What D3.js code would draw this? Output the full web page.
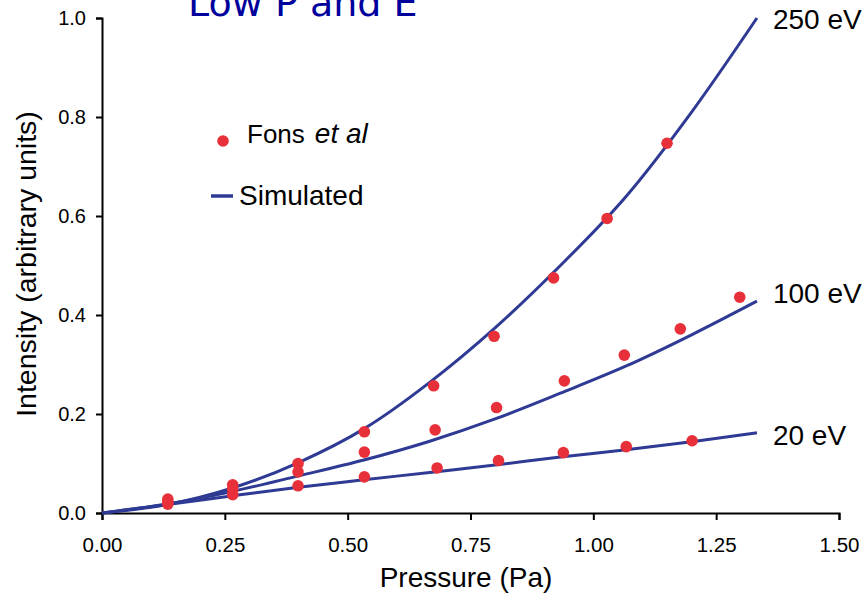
<!DOCTYPE html>
<html lang="en">
<head>
  <meta charset="UTF-8" />
  <title>Low P and E</title>
  <script src="https://d3js.org/d3.v7.min.js"></script>
  <style>
    body { margin: 0; background: #fff; }
    svg { display: block; }
  </style>
</head>
<body>
<script type="text/javascript">

const WIDTH = 864;
const HEIGHT = 593;
const BLUE = "#2E3A94";
const RED = "#E8303A";
const FONT = "'Liberation Sans', Arial, Helvetica, sans-serif";

// simulated curves: [pressure Pa, intensity]
const sim250 = [[0,0],[0.133,0.017],[0.267,0.051],[0.4,0.102],[0.533,0.170],[0.667,0.264],
                [0.8,0.374],[0.933,0.500],[1.067,0.640],[1.2,0.810],[1.333,1.0]];
const sim100 = [[0,0],[0.133,0.018],[0.267,0.044],[0.4,0.075],[0.533,0.107],[0.667,0.145],
                [0.8,0.190],[0.933,0.242],[1.067,0.297],[1.2,0.360],[1.333,0.428]];
const sim20  = [[0,0],[0.133,0.017],[0.267,0.035],[0.4,0.052],[0.533,0.067],[0.667,0.082],
                [0.8,0.097],[0.933,0.113],[1.067,0.128],[1.2,0.144],[1.333,0.162]];

// Fons et al measurements
const fons250 = [[0.134,0.028],[0.266,0.057],[0.399,0.100],[0.534,0.164],[0.675,0.257],
                 [0.798,0.357],[0.919,0.475],[1.028,0.595],[1.150,0.747]];
const fons100 = [[0.134,0.022],[0.266,0.048],[0.399,0.083],[0.534,0.123],[0.678,0.168],
                 [0.803,0.213],[0.941,0.267],[1.063,0.319],[1.177,0.372],[1.298,0.436]];
const fons20  = [[0.134,0.018],[0.266,0.037],[0.399,0.055],[0.534,0.073],[0.682,0.091],
                 [0.807,0.106],[0.939,0.122],[1.067,0.134],[1.201,0.146]];

const curveLabels = ["250 eV", "100 eV", "20 eV"];
const xTicks = [0, 0.25, 0.5, 0.75, 1.0, 1.25, 1.5];
const yTicks = [0, 0.2, 0.4, 0.6, 0.8, 1.0];

var svg = d3.select("body")
    .append("svg")
        .attr("width", WIDTH)
        .attr("height", HEIGHT);

const xScale = d3.scaleLinear().domain([0, 1.5]).range([102, 839]);
const yScale = d3.scaleLinear().domain([0, 1]).range([513, 18]);

// title, cut off at the top like the original
svg.append("text")
    .attr("x", 188)
    .attr("y", 16)
    .attr("font-family", "'DejaVu Sans', Verdana, sans-serif")
    .attr("font-size", 38)
    .attr("fill", "#00009C")
    .text("Low P and E");

// x axis
svg.append("g")
    .attr("transform", `translate(0,${yScale(0)})`)
    .call(d3.axisBottom(xScale)
        .tickValues(xTicks)
        .tickFormat(d3.format(".2f"))
        .tickSize(7)
        .tickPadding(17))
    .call(g => g.select(".domain").attr("stroke-width", 2))
    .call(g => g.selectAll(".tick line").attr("stroke-width", 2))
    .call(g => g.selectAll("text")
        .attr("font-family", FONT)
        .attr("font-size", 20.5)
        .attr("fill", "#000"));

// y axis
svg.append("g")
    .attr("transform", `translate(${xScale(0)},0)`)
    .call(d3.axisLeft(yScale)
        .tickValues(yTicks)
        .tickFormat(d3.format(".1f"))
        .tickSize(6)
        .tickPadding(10))
    .call(g => g.select(".domain").attr("stroke-width", 2))
    .call(g => g.selectAll(".tick line").attr("stroke-width", 2))
    .call(g => g.selectAll("text")
        .attr("font-family", FONT)
        .attr("font-size", 20)
        .attr("fill", "#000"));

// axis titles
svg.append("text")
    .attr("x", 466)
    .attr("y", 587)
    .attr("text-anchor", "middle")
    .attr("font-family", FONT)
    .attr("font-size", 28)
    .text("Pressure (Pa)");
svg.append("text")
    .attr("transform", "translate(36,264) rotate(-90)")
    .attr("text-anchor", "middle")
    .attr("font-family", FONT)
    .attr("font-size", 28.5)
    .text("Intensity (arbitrary units)");

// simulated lines
const line = d3.line()
    .x(d => xScale(d[0]))
    .y(d => yScale(d[1]))
    .curve(d3.curveMonotoneX);

const sims = [sim250, sim100, sim20];
svg.append("g")
    .selectAll("path")
    .data(sims)
    .join("path")
        .attr("d", line)
        .attr("fill", "none")
        .attr("stroke", BLUE)
        .attr("stroke-width", 3);

// curve labels next to the line ends
const labelDy = [11, 2, 12];
svg.append("g")
    .selectAll("text")
    .data(sims)
    .join("text")
        .attr("x", d => xScale(d[d.length - 1][0]) + 16)
        .attr("y", (d, i) => yScale(d[d.length - 1][1]) + labelDy[i])
        .attr("font-family", FONT)
        .attr("font-size", 28)
        .text((d, i) => curveLabels[i]);

// measured points
svg.append("g")
    .selectAll("circle")
    .data(fons250.concat(fons100, fons20))
    .join("circle")
        .attr("cx", d => xScale(d[0]))
        .attr("cy", d => yScale(d[1]))
        .attr("r", 5.8)
        .attr("fill", RED);

// legend
svg.append("circle")
    .attr("cx", 223)
    .attr("cy", 141)
    .attr("r", 5.8)
    .attr("fill", RED);
var fons = svg.append("text")
    .attr("x", 247)
    .attr("y", 143)
    .attr("font-family", FONT)
    .attr("font-size", 26);
fons.append("tspan").text("Fons");
fons.append("tspan").attr("dx", 10).attr("font-style", "italic")
    .attr("font-size", 28).text("et al");

svg.append("line")
    .attr("x1", 211)
    .attr("x2", 233)
    .attr("y1", 196)
    .attr("y2", 196)
    .attr("stroke", BLUE)
    .attr("stroke-width", 3.5);
svg.append("text")
    .attr("x", 239)
    .attr("y", 205)
    .attr("font-family", FONT)
    .attr("font-size", 28)
    .text("Simulated");

</script>
</body>
</html>
